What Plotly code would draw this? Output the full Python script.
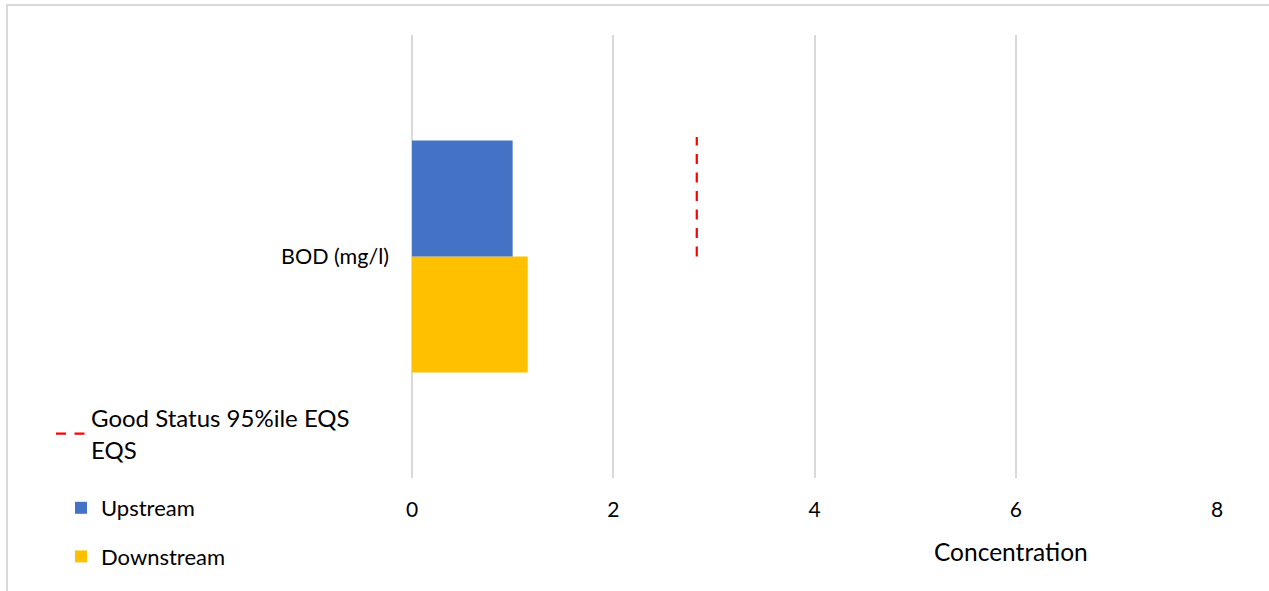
import plotly.graph_objects as go

categories = ["BOD (mg/l)"]
upstream = [1.0]
downstream = [1.15]
eqs_value = [2.83]
x_ticks = [0, 2, 4, 6, 8]

BLUE = "#4472C4"
YELLOW = "#FFC000"
RED = "#FF0000"
GRID = "#D9D9D9"
FONT = "Lato"

bargap = 0.476
positions = list(range(len(categories)))
half = (1 - bargap) / 2

fig = go.Figure()

# EQS dashed line spanning the upstream bar band
for i, v in enumerate(eqs_value):
    fig.add_trace(go.Scatter(
        x=[v, v], y=[positions[i], positions[i] + half * 1.03],
        mode="lines",
        line=dict(color=RED, width=2.2, dash="10px,8.5px"),
        name="Good Status 95%ile EQS<br>EQS",
        legend="legend",
        showlegend=(i == 0),
    ))

fig.add_trace(go.Bar(
    y=positions, x=downstream, orientation="h", name="Downstream",
    marker=dict(color=YELLOW, line=dict(width=0)),
    legend="legend2", legendrank=2, legendgroup="g3",
))
fig.add_trace(go.Bar(
    y=positions, x=upstream, orientation="h", name="Upstream",
    marker=dict(color=BLUE, line=dict(width=0)),
    legend="legend2", legendrank=1, legendgroup="g2",
))

L, R, T, B = 412, 52, 35, 113
W, H = 1269, 591
pw = W - L - R
ph = H - T - B


def px_x(v):
    return (v - L) / pw


def px_y(v):
    return (H - B - v) / ph


fig.update_layout(
    width=W, height=H,
    margin=dict(l=L, r=R, t=T, b=B),
    paper_bgcolor="white", plot_bgcolor="white",
    barmode="group", bargap=bargap, bargroupgap=0,
    font=dict(family=FONT, color="#000000", size=21),
    showlegend=True,
    legend=dict(
        x=px_x(51), xanchor="left",
        y=px_y(396), yanchor="top",
        font=dict(family=FONT, size=24, color="#000000"),
        bgcolor="rgba(0,0,0,0)",
    ),
    legend2=dict(
        x=px_x(61), xanchor="left",
        y=px_y(487), yanchor="top",
        font=dict(family=FONT, size=22, color="#000000"),
        traceorder="grouped", tracegroupgap=17,
        bgcolor="rgba(0,0,0,0)",
    ),
    xaxis=dict(
        range=[x_ticks[0], x_ticks[-1]],
        tickvals=x_ticks, ticktext=[str(t) for t in x_ticks],
        showgrid=True, gridcolor=GRID, gridwidth=1.5,
        zeroline=True, zerolinecolor=GRID, zerolinewidth=1.5,
        showline=False, ticks="", ticklabelstandoff=17,
        tickfont=dict(family=FONT, size=21, color="#000000"),
    ),
    yaxis=dict(
        range=[-0.5, 0.5],
        tickvals=positions, ticktext=categories,
        showgrid=False, zeroline=False, showline=False, ticks="",
        ticklabelstandoff=22,
        tickfont=dict(family=FONT, size=21.5, color="#000000"),
    ),
    annotations=[dict(
        text="Concentration", xref="paper", yref="paper",
        x=px_x(1011), y=px_y(551),
        xanchor="center", yanchor="middle", showarrow=False,
        font=dict(family=FONT, size=24.5, color="#000000"),
    )],
    shapes=[dict(
        type="rect", xref="paper", yref="paper",
        x0=px_x(7), x1=px_x(W + 20),
        y0=px_y(H + 20), y1=px_y(5),
        line=dict(color=GRID, width=2), fillcolor="rgba(0,0,0,0)",
        layer="below",
    )],
)

fig.write_html("out.html")
